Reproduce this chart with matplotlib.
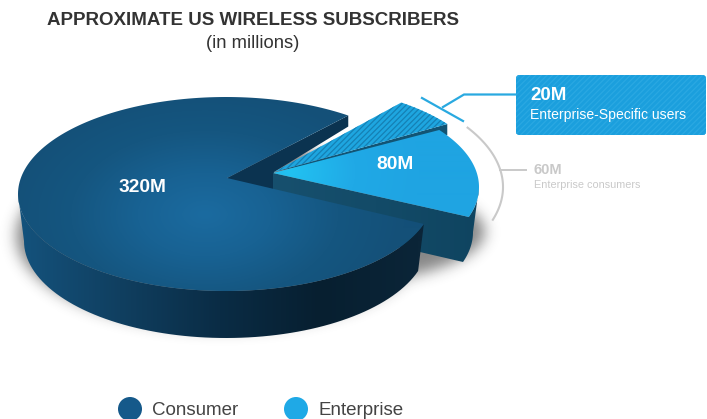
import numpy as np
import matplotlib
matplotlib.use('Agg')
import matplotlib.pyplot as plt
from matplotlib.colors import LinearSegmentedColormap
from matplotlib.patches import Circle, FancyBboxPatch, Polygon

plt.rcParams['font.family'] = ['Liberation Sans', 'DejaVu Sans']
plt.rcParams['hatch.linewidth'] = 0.9

# data
categories = ['Consumer', 'Enterprise']
values = [320, 60, 20]
value_labels = ['320M', '80M', '20M', '60M']
title = 'APPROXIMATE US WIRELESS SUBSCRIBERS'
subtitle = '(in millions)'
callout_20 = 'Enterprise-Specific users'
callout_60 = 'Enterprise consumers'

# colours
BLUE = '#15598a'
SKY = '#1fa9e6'
GREY = '#c9c9c9'

W, H = 707, 419
fig = plt.figure(figsize=(W / 100, H / 100), dpi=100)
ax = fig.add_axes([0, 0, 1, 1])
ax.set_xlim(0, W)
ax.set_ylim(H, 0)
ax.axis('off')

# pie sweep, counter clockwise from the top edge of the consumer gap
start = 54.0
sweep = [v / sum(values) * 360 for v in values]
a_cons_end = start + sweep[0]           # lower edge of the gap, > 180
a_gap = a_cons_end - 360
a_split = a_gap + sweep[1]              # light / hatched boundary

RX, RY = 208, 97
CX, CY = 226, 194
BX, BY, BRX = 226, 241, 202


def arc(cx, cy, rx, ry, a0, a1, n=80):
    t = np.radians(np.linspace(a0, a1, n))
    return np.column_stack([cx + rx * np.cos(t), cy - ry * np.sin(t)])


def blur(img, sigma):
    r = int(sigma * 3)
    k = np.exp(-np.arange(-r, r + 1) ** 2 / (2 * sigma ** 2))
    k /= k.sum()
    img = np.apply_along_axis(lambda m: np.convolve(m, k, mode='same'), 0, img)
    return np.apply_along_axis(lambda m: np.convolve(m, k, mode='same'), 1, img)


yy, xx = np.mgrid[0:H, 0:W]
yy = yy + 0.5
xx = xx + 0.5


def paint(poly, field, colors, vmin, vmax, zorder):
    # gradient image clipped to a polygon
    cmap = LinearSegmentedColormap.from_list('g', colors)
    patch = Polygon(poly, closed=True, fc='none', ec='none', zorder=zorder)
    ax.add_patch(patch)
    im = ax.imshow(field, cmap=cmap, vmin=vmin, vmax=vmax, extent=(0, W, H, 0),
                   aspect='auto', interpolation='bilinear', zorder=zorder)
    im.set_clip_path(patch)


# shadow
m1 = ((xx - 222) / 206) ** 2 + ((yy - 236) / 93) ** 2 < 1
m2 = ((xx - 300) / 185) ** 2 + ((yy - 232) / 55) ** 2 < 1
shadow = blur((m1 | m2).astype(float), 7)
rgba = np.zeros((H, W, 4))
rgba[..., :3] = 0.15
rgba[..., 3] = shadow * 0.55
ax.imshow(rgba, extent=(0, W, H, 0), aspect='auto', zorder=1)

# dark notch behind the enterprise slices
apex = (227, 178)
end_top = arc(CX, CY, RX, RY, start, start, 1)[0]
ax.add_patch(Polygon([apex, end_top, (end_top[0], end_top[1] + 11), (274, 172), (274, 215)],
                     closed=True, fc='#0b3350', ec='none', zorder=2))

# enterprise-specific slice (hatched)
HX, HY = 279, 181
h_apex = (274, 172)
h_arc = arc(HX, HY, RX, RY, a_split, start)
ax.add_patch(Polygon([h_apex, (h_arc[0][0], h_arc[0][1] + 11), tuple(h_arc[0])],
                     closed=True, fc='#125474', ec='none', zorder=3))
ax.add_patch(Polygon(np.vstack([[h_apex], h_arc]), closed=True, fc='#1ea6e0',
                     ec='#1580b4', hatch='//////', lw=0, zorder=3))

# enterprise consumers slice
EX, EY = 271, 187
e_apex = (273, 173)
e_top = arc(EX, EY, RX, RY, a_gap, a_gap + 18)
e_bot = arc(EX - 2, EY + 45, 204, RY, a_gap, a_gap + 18)
wall = np.vstack([[e_apex], e_top, e_bot[::-1], [(273, 218)]])
paint(wall, xx, ['#17506e', '#134b68', '#0f4460'], 273, 480, 4)

e_arc = arc(EX, EY, RX, RY, a_gap, a_split)
e_field = np.hypot(xx - 290, (yy - 172) * 1.2)
paint(np.vstack([[e_apex], e_arc]), e_field, ['#22c2f1', '#20a9e6', '#1fa4e2'], 0, 130, 5)

# consumer wall
c_top = arc(CX, CY, RX, RY, 180, a_cons_end)
c_bot = arc(BX, BY, BRX, RY, 180, a_cons_end)
paint(np.vstack([c_top, c_bot[::-1]]), xx,
      ['#14527c', '#103f60', '#0a2c45', '#071f30', '#0b2538'], 20, 420, 6)

# consumer top
c_arc = arc(CX, CY, RX, RY, start, a_cons_end, 200)
c_field = np.hypot((xx - 205) / 1.6, yy - 215)
paint(np.vstack([[apex], c_arc]), c_field, ['#1b6ba0', '#186293', '#155680', '#145078'], 0, 125, 7)

# value labels on the slices
ax.text(142, 187.5, value_labels[0], color='white', fontsize=13.8, fontweight='bold',
        ha='center', va='center', zorder=9)
ax.text(395, 164, value_labels[1], color='white', fontsize=13.8, fontweight='bold',
        ha='center', va='center', zorder=9)

# callout for 20M
ax.plot([422, 463], [98, 121], color='#29a9e0', lw=1.6, zorder=8)
ax.plot([443, 464, 517], [107, 94.5, 94.5], color='#29a9e0', lw=1.6, zorder=8)
ax.add_patch(FancyBboxPatch((518, 77), 186, 56, boxstyle='round,pad=2,rounding_size=3',
                            fc='#1b9fdd', ec='#1b9fdd', lw=0, zorder=8))
ax.add_patch(FancyBboxPatch((518, 77), 186, 56, boxstyle='round,pad=2,rounding_size=3',
                            fc='none', ec='#2aa8e2', hatch='//////', lw=0, zorder=8))
ax.text(530, 95, value_labels[2], color='white', fontsize=13.5, fontweight='bold',
        va='center', zorder=9)
ax.text(530, 115, callout_20, color='white', fontsize=10.1, va='center', zorder=9)

# callout for 60M
g_arc = arc(270, 187, 233, 112, -17, 32)
ax.plot(g_arc[:, 0], g_arc[:, 1], color=GREY, lw=1.5, zorder=8)
ax.plot([500, 526], [170, 170], color=GREY, lw=1.4, zorder=8)
ax.text(534, 169.5, value_labels[3], color=GREY, fontsize=10.5, fontweight='bold', va='center', zorder=9)
ax.text(534, 184.5, callout_60, color=GREY, fontsize=7.8, va='center', zorder=9)

# titles
ax.text(253, 20.5, title, color='#333333', fontsize=13.5, fontweight='bold', ha='center', va='center')
ax.text(253, 43, subtitle, color='#333333', fontsize=13.2, ha='center', va='center')

# legend
for x, col, name in zip([130, 296], [BLUE, SKY], categories):
    ax.add_patch(Circle((x, 409), 12, fc=col, ec='none', zorder=3))
    ax.text(x + 22, 410, name, color='#444444', fontsize=13.5, va='center')

fig.savefig('out.png', dpi=100)
